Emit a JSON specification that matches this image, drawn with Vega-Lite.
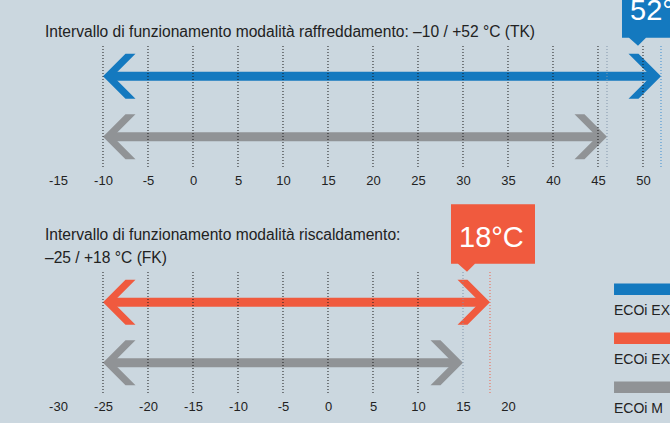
{
  "$schema": "https://vega.github.io/schema/vega-lite/v6.json",
  "background": "#cbd7df",
  "padding": {"top": -22, "left": 0, "right": 0, "bottom": 10},
  "spacing": 17,
  "config": {
    "view": {"stroke": null},
    "font": "Liberation Sans Narrow, Liberation Sans, sans-serif"
  },
  "datasets": {
    "cool": [
      {"series": "ECOi EX ME2 raffreddamento", "from": -10, "to": 52},
      {"series": "ECOi ME1", "from": -10, "to": 46}
    ],
    "heat": [
      {"series": "ECOi EX ME2 riscaldamento", "from": -25, "to": 18},
      {"series": "ECOi ME1", "from": -25, "to": 15}
    ],
    "gridA": [{"t": -10}, {"t": -5}, {"t": 0}, {"t": 5}, {"t": 10}, {"t": 15}, {"t": 20}, {"t": 25}, {"t": 30}, {"t": 35}, {"t": 40}, {"t": 45}, {"t": 50}],
    "gridB": [{"t": -25}, {"t": -20}, {"t": -15}, {"t": -10}, {"t": -5}, {"t": 0}, {"t": 5}, {"t": 10}],
    "calloutA": [{"series": "ECOi EX ME2 raffreddamento", "value": 52, "label": "52°"}],
    "calloutB": [{"series": "ECOi EX ME2 riscaldamento", "value": 18, "label": "18°C"}],
    "legend": [
      {"series": "ECOi EX ME2 raffreddamento"},
      {"series": "ECOi EX ME2 riscaldamento"},
      {"series": "ECOi ME1"}
    ]
  },
  "vconcat": [
    {
      "width": 670,
      "height": 121,
      "title": {"text": "Intervallo di funzionamento modalità raffreddamento: –10 / +52 °C (TK)", "anchor": "start", "frame": "group", "dx": 45, "offset": -62, "fontSize": 15.6, "fontWeight": "normal", "color": "#222"},
      "layer": [
        {
          "data": {"name": "cool"},
          "mark": {"type": "rule", "strokeWidth": 9, "xOffset": 6, "x2Offset": -6, "strokeCap": "butt"},
          "encoding": {
            "x": {"field": "from", "type": "quantitative", "title": null, "scale": {"domain": [-21.444, 53], "nice": false, "zero": false},
              "axis": {"values": [-15, -10, -5, 0, 5, 10, 15, 20, 25, 30, 35, 40, 45, 50], "labelExpr": "'' + datum.value", "domain": false, "ticks": false, "grid": false, "labelFontSize": 13, "labelColor": "#222", "labelPadding": 7, "labelFlush": false, "labelOverlap": false, "title": null}},
            "x2": {"field": "to"},
            "y": {"field": "series", "type": "nominal", "axis": null, "scale": {"type": "point", "padding": 0.5, "domain": ["ECOi EX ME2 raffreddamento", "ECOi ME1"]}},
            "color": {"field": "series", "type": "nominal", "legend": null, "scale": {"domain": ["ECOi EX ME2 raffreddamento", "ECOi EX ME2 riscaldamento", "ECOi ME1"], "range": ["#1479bf", "#f05a3e", "#909396"]}}
          }
        },
        {
          "data": {"name": "cool"},
          "mark": {"type": "point", "shape": "M0,0L1,-1L1.444,-1L0.444,0L1.444,1L1,1Z", "size": 2025, "filled": true, "opacity": 1},
          "encoding": {
            "x": {"field": "from", "type": "quantitative", "title": null},
            "y": {"field": "series", "type": "nominal", "axis": null},
            "color": {"field": "series", "type": "nominal", "legend": null}
          }
        },
        {
          "data": {"name": "cool"},
          "mark": {"type": "point", "shape": "M0,0L-1,-1L-1.444,-1L-0.444,0L-1.444,1L-1,1Z", "size": 2025, "filled": true, "opacity": 1},
          "encoding": {
            "x": {"field": "to", "type": "quantitative", "title": null},
            "y": {"field": "series", "type": "nominal", "axis": null},
            "color": {"field": "series", "type": "nominal", "legend": null}
          }
        },
        {
          "data": {"name": "gridA"},
          "mark": {"type": "rule", "strokeDash": [1, 2], "strokeWidth": 1, "color": "#1a1a1a"},
          "encoding": {
            "x": {"field": "t", "type": "quantitative", "title": null}
          }
        },
        {
          "data": {"name": "cool"},
          "mark": {"type": "rule", "strokeDash": [1, 2], "strokeWidth": 1},
          "encoding": {
            "x": {"field": "to", "type": "quantitative", "title": null},
            "stroke": {"field": "series", "type": "nominal", "legend": null, "scale": {"domain": ["ECOi EX ME2 raffreddamento", "ECOi EX ME2 riscaldamento", "ECOi ME1"], "range": ["#3d8fd1", "#f0644a", "#8397ab"]}}
          }
        },
        {
          "data": {"name": "calloutA"},
          "mark": {"type": "point", "shape": "M-0.78,-1.96L0.18,-1.96L0.18,-0.77L-0.3,-0.77L-0.46,-0.61L-0.64,-0.77L-0.78,-0.77Z", "size": 10000, "filled": true, "opacity": 1},
          "encoding": {
            "x": {"field": "value", "type": "quantitative", "title": null},
            "y": {"field": "series", "type": "nominal", "axis": null},
            "color": {"field": "series", "type": "nominal", "legend": null}
          }
        },
        {
          "data": {"name": "calloutA"},
          "mark": {"type": "text", "align": "left", "baseline": "middle", "dx": -31, "dy": -65, "fontSize": 29, "color": "#ffffff"},
          "encoding": {
            "x": {"field": "value", "type": "quantitative", "title": null},
            "y": {"field": "series", "type": "nominal", "axis": null},
            "text": {"field": "label"}
          }
        }
      ]
    },
    {
      "width": 670,
      "height": 121,
      "title": {"text": ["Intervallo di funzionamento modalità riscaldamento:", "–25 / +18 °C (FK)"], "anchor": "start", "frame": "group", "dx": 45, "offset": -62, "fontSize": 15.6, "fontWeight": "normal", "color": "#222", "lineHeight": 23},
      "resolve": {"scale": {"y": "independent"}},
      "layer": [
        {
          "data": {"name": "heat"},
          "mark": {"type": "rule", "strokeWidth": 9, "xOffset": 6, "x2Offset": -6, "strokeCap": "butt"},
          "encoding": {
            "x": {"field": "from", "type": "quantitative", "title": null, "scale": {"domain": [-36.444, 38], "nice": false, "zero": false},
              "axis": {"values": [-30, -25, -20, -15, -10, -5, 0, 5, 10, 15, 20], "labelExpr": "'' + datum.value", "domain": false, "ticks": false, "grid": false, "labelFontSize": 13, "labelColor": "#222", "labelPadding": 7, "labelFlush": false, "labelOverlap": false, "title": null}},
            "x2": {"field": "to"},
            "y": {"field": "series", "type": "nominal", "axis": null, "scale": {"type": "point", "padding": 0.5, "domain": ["ECOi EX ME2 riscaldamento", "ECOi ME1"]}},
            "color": {"field": "series", "type": "nominal", "legend": null}
          }
        },
        {
          "data": {"name": "heat"},
          "mark": {"type": "point", "shape": "M0,0L1,-1L1.444,-1L0.444,0L1.444,1L1,1Z", "size": 2025, "filled": true, "opacity": 1},
          "encoding": {
            "x": {"field": "from", "type": "quantitative", "title": null},
            "y": {"field": "series", "type": "nominal", "axis": null, "scale": {"type": "point", "padding": 0.5, "domain": ["ECOi EX ME2 riscaldamento", "ECOi ME1"]}},
            "color": {"field": "series", "type": "nominal", "legend": null}
          }
        },
        {
          "data": {"name": "heat"},
          "mark": {"type": "point", "shape": "M0,0L-1,-1L-1.444,-1L-0.444,0L-1.444,1L-1,1Z", "size": 2025, "filled": true, "opacity": 1},
          "encoding": {
            "x": {"field": "to", "type": "quantitative", "title": null},
            "y": {"field": "series", "type": "nominal", "axis": null, "scale": {"type": "point", "padding": 0.5, "domain": ["ECOi EX ME2 riscaldamento", "ECOi ME1"]}},
            "color": {"field": "series", "type": "nominal", "legend": null}
          }
        },
        {
          "data": {"name": "gridB"},
          "mark": {"type": "rule", "strokeDash": [1, 2], "strokeWidth": 1, "color": "#1a1a1a"},
          "encoding": {
            "x": {"field": "t", "type": "quantitative", "title": null}
          }
        },
        {
          "data": {"name": "heat"},
          "mark": {"type": "rule", "strokeDash": [1, 2], "strokeWidth": 1},
          "encoding": {
            "x": {"field": "to", "type": "quantitative", "title": null},
            "stroke": {"field": "series", "type": "nominal", "legend": null}
          }
        },
        {
          "data": {"name": "calloutB"},
          "mark": {"type": "point", "shape": "M-0.78,-1.96L0.9,-1.96L0.9,-0.77L-0.3,-0.77L-0.46,-0.61L-0.64,-0.77L-0.78,-0.77Z", "size": 10000, "filled": true, "opacity": 1},
          "encoding": {
            "x": {"field": "value", "type": "quantitative", "title": null},
            "y": {"field": "series", "type": "nominal", "axis": null, "scale": {"type": "point", "padding": 0.5, "domain": ["ECOi EX ME2 riscaldamento", "ECOi ME1"]}},
            "color": {"field": "series", "type": "nominal", "legend": null}
          }
        },
        {
          "data": {"name": "calloutB"},
          "mark": {"type": "text", "align": "left", "baseline": "middle", "dx": -31, "dy": -64, "fontSize": 29, "color": "#ffffff"},
          "encoding": {
            "x": {"field": "value", "type": "quantitative", "title": null},
            "y": {"field": "series", "type": "nominal", "axis": null, "scale": {"type": "point", "padding": 0.5, "domain": ["ECOi EX ME2 riscaldamento", "ECOi ME1"]}},
            "text": {"field": "label"}
          }
        },
        {
          "data": {"name": "legend"},
          "mark": {"type": "rule", "strokeWidth": 11.5, "strokeCap": "butt"},
          "encoding": {
            "x": {"datum": 31.78, "type": "quantitative"},
            "x2": {"datum": 38},
            "y": {"field": "series", "type": "nominal", "axis": null, "scale": {"type": "point", "padding": 0.2347, "align": 0.748, "domain": ["ECOi EX ME2 raffreddamento", "ECOi EX ME2 riscaldamento", "ECOi ME1"]}},
            "color": {"field": "series", "type": "nominal", "legend": null}
          }
        },
        {
          "data": {"name": "legend"},
          "mark": {"type": "text", "align": "left", "baseline": "middle", "dy": 22, "fontSize": 14, "color": "#222", "limit": 61, "ellipsis": " "},
          "encoding": {
            "x": {"datum": 31.78, "type": "quantitative"},
            "y": {"field": "series", "type": "nominal", "axis": null, "scale": {"type": "point", "padding": 0.2347, "align": 0.748, "domain": ["ECOi EX ME2 raffreddamento", "ECOi EX ME2 riscaldamento", "ECOi ME1"]}},
            "text": {"field": "series"}
          }
        }
      ]
    }
  ]
}
